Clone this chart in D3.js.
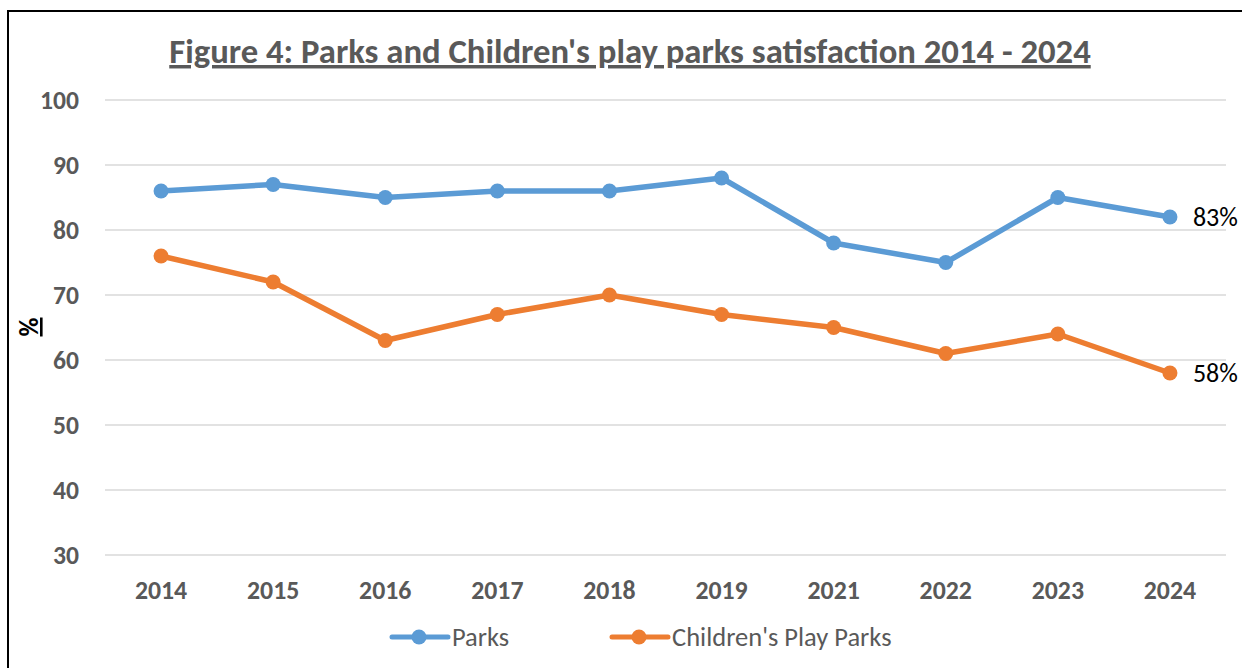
<!DOCTYPE html>
<html><head><meta charset="utf-8">
<script src="https://cdn.jsdelivr.net/npm/d3@7"></script>
<style>body{margin:0;background:#fff;} svg{display:block;}</style>
</head><body>
<svg id="c" width="1242" height="668"></svg>
<script>
const years = ["2014","2015","2016","2017","2018","2019","2021","2022","2023","2024"];
const parks = [86,87,85,86,86,88,78,75,85,82];
const playParks = [76,72,63,67,70,67,65,61,64,58];
const yTicks = [30,40,50,60,70,80,90,100];
const endLabels = ["83%","58%"];
const seriesNames = ["Parks","Children's Play Parks"];
const colors = ["#5B9BD5","#ED7D31"];
const font = "Carlito, 'Liberation Sans Narrow', 'Open Sans', sans-serif";

const svg = d3.select("#c");
// frame
svg.append("line").attr("x1",8).attr("x2",1242).attr("y1",11).attr("y2",11).attr("stroke","#000").attr("stroke-width",2);
svg.append("line").attr("x1",8).attr("x2",8).attr("y1",10).attr("y2",668).attr("stroke","#000").attr("stroke-width",2);

const x = d3.scaleBand().domain(years).range([105,1226]);
const y = d3.scaleLinear().domain([30,100]).range([555,100]);

// grid
svg.append("g").selectAll("line").data(yTicks).join("line")
  .attr("x1",105).attr("x2",1226).attr("y1",d=>y(d)).attr("y2",d=>y(d))
  .attr("stroke","#d9d9d9").attr("stroke-width",1.5);

// y axis
const ya = svg.append("g").attr("transform","translate(79,0)")
  .call(d3.axisLeft(y).tickValues(yTicks).tickSize(0).tickPadding(0));
ya.select(".domain").remove();
ya.selectAll("text").attr("font-family",font).attr("font-size",25.6).attr("font-weight","bold").attr("fill","#595959").attr("dy","0.35em");

// x axis
const xa = svg.append("g").attr("transform","translate(0,590)")
  .call(d3.axisBottom(x).tickSize(0).tickPadding(0));
xa.select(".domain").remove();
xa.selectAll("text").attr("font-family",font).attr("font-size",25.8).attr("font-weight","bold").attr("fill","#595959").attr("dy","0.35em");

// title
svg.append("text").attr("x",630).attr("y",63).attr("text-anchor","middle")
  .attr("font-family",font).attr("font-size",34.7).attr("font-weight","bold").attr("fill","#595959")
  .attr("text-decoration","underline").text("Figure 4: Parks and Children's play parks satisfaction 2014 - 2024");

// y label
svg.append("text").attr("transform","translate(38,327) rotate(-90)").attr("text-anchor","middle")
  .attr("font-family",font).attr("font-size",26).attr("font-weight","bold").attr("fill","#000")
  .attr("text-decoration","underline").text("%");

const cx = d => x(d) + x.bandwidth()/2;
const data = [parks, playParks];
data.forEach((vals,i)=>{
  const pts = years.map((yr,j)=>[yr,vals[j]]);
  const line = d3.line().x(d=>cx(d[0])).y(d=>y(d[1]));
  svg.append("path").datum(pts).attr("d",line).attr("fill","none")
    .attr("stroke",colors[i]).attr("stroke-width",5.5).attr("stroke-linejoin","round").attr("stroke-linecap","round");
  svg.append("g").selectAll("circle").data(pts).join("circle")
    .attr("cx",d=>cx(d[0])).attr("cy",d=>y(d[1])).attr("r",7.5).attr("fill",colors[i]);
  const last = pts[pts.length-1];
  svg.append("text").attr("x",cx(last[0])+23).attr("y",y(last[1])).attr("dy","0.35em")
    .attr("font-family",font).attr("font-size",26).attr("fill","#000").text(endLabels[i]);
});

// legend
const legX = [392,612];
seriesNames.forEach((n,i)=>{
  const g = svg.append("g").attr("transform",`translate(${legX[i]},637)`);
  g.append("line").attr("x1",0).attr("x2",56).attr("y1",0).attr("y2",0).attr("stroke",colors[i]).attr("stroke-width",5).attr("stroke-linecap","round");
  g.append("circle").attr("cx",27).attr("cy",0).attr("r",7.5).attr("fill",colors[i]);
  g.append("text").attr("x",60).attr("y",0).attr("dy","0.35em").attr("font-family",font).attr("font-size",26.5).attr("fill","#595959").text(n);
});
</script>
</body></html>
